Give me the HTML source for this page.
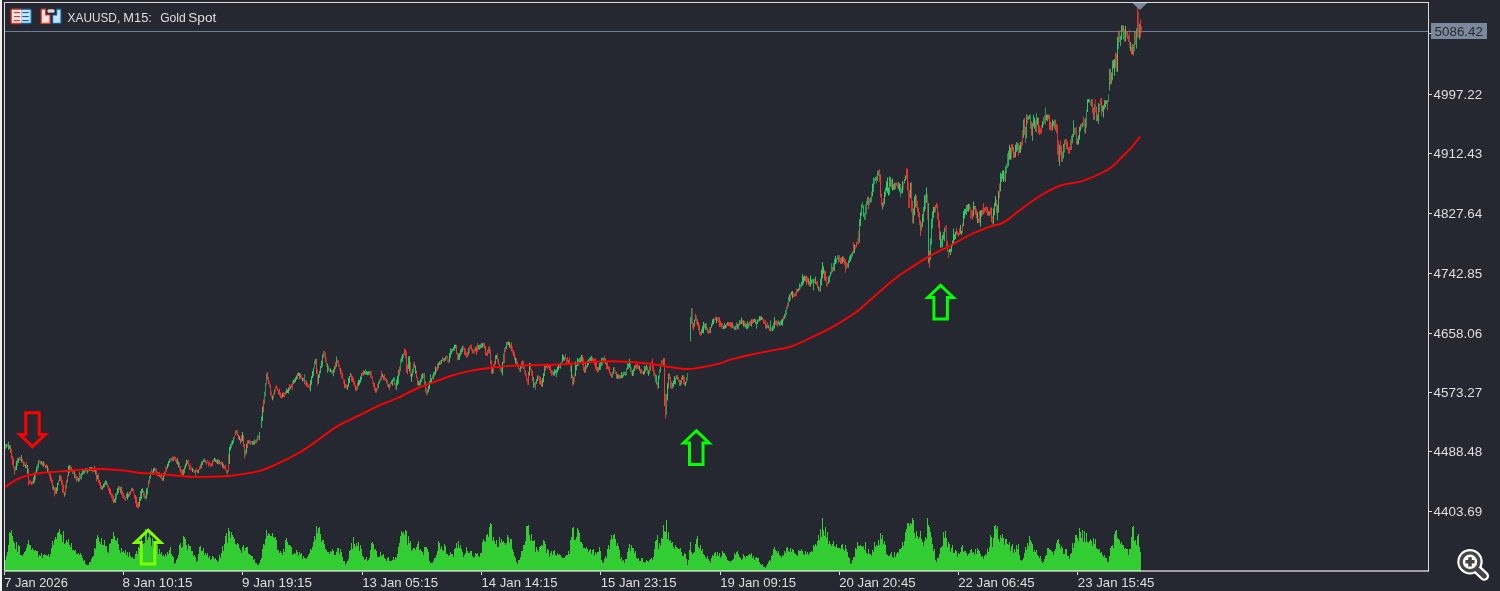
<!DOCTYPE html><html><head><meta charset="utf-8"><title>XAUUSD, M15: Gold Spot</title>
<style>html,body{margin:0;padding:0;background:#252830;overflow:hidden}svg{display:block}text{font-family:"Liberation Sans",sans-serif;}</style></head><body>
<svg width="1500" height="591" viewBox="0 0 1500 591" style="will-change:transform">
<rect width="1500" height="591" fill="#252830"/>
<rect x="0" y="0" width="2" height="591" fill="#f0f0f0"/>
<path d="M5 571L5 560.3L6 560.3L6 556.3L7 556.3L7 551.5L8 551.5L8 545.1L9 545.1L9 531.7L10 531.7L10 532.6L11 532.6L11 530.1L12 530.1L12 536.3L13 536.3L13 540.7L14 540.7L14 543.4L15 543.4L15 549.1L16 549.1L16 541.5L17 541.5L17 551.6L18 551.6L18 544.8L19 544.8L19 546.1L20 546.1L20 555.1L21 555.1L21 555.0L22 555.0L22 556.1L23 556.1L23 554.3L24 554.3L24 551.6L25 551.6L25 550.6L26 550.6L26 547.5L27 547.5L27 543.9L28 543.9L28 540.2L29 540.2L29 545.1L30 545.1L30 545.4L31 545.4L31 550.3L32 550.3L32 547.9L33 547.9L33 550.1L34 550.1L34 550.7L35 550.7L35 549.7L36 549.7L36 550.6L37 550.6L37 551.4L38 551.4L38 557.4L39 557.4L39 554.5L40 554.5L40 556.4L41 556.4L41 553.0L42 553.0L42 558.1L43 558.1L43 555.4L44 555.4L44 554.4L45 554.4L45 555.0L46 555.0L46 555.4L47 555.4L47 556.2L48 556.2L48 553.6L49 553.6L49 557.4L50 557.4L50 553.6L51 553.6L51 548.3L52 548.3L52 541.2L53 541.2L53 544.5L54 544.5L54 539.6L55 539.6L55 537.3L56 537.3L56 539.3L57 539.3L57 532.9L58 532.9L58 532.1L59 532.1L59 529.0L60 529.0L60 533.7L61 533.7L61 535.3L62 535.3L62 542.3L63 542.3L63 530.8L64 530.8L64 543.9L65 543.9L65 543.3L66 543.3L66 539.5L67 539.5L67 542.3L68 542.3L68 539.3L69 539.3L69 545.0L70 545.0L70 546.7L71 546.7L71 543.0L72 543.0L72 549.5L73 549.5L73 550.0L74 550.0L74 550.6L75 550.6L75 550.2L76 550.2L76 554.2L77 554.2L77 553.9L78 553.9L78 552.9L79 552.9L79 554.5L80 554.5L80 553.0L81 553.0L81 555.1L82 555.1L82 557.7L83 557.7L83 561.2L84 561.2L84 559.7L85 559.7L85 564.1L86 564.1L86 564.8L87 564.8L87 565.2L88 565.2L88 565.0L89 565.0L89 562.3L90 562.3L90 561.9L91 561.9L91 558.8L92 558.8L92 556.8L93 556.8L93 556.0L94 556.0L94 548.4L95 548.4L95 549.2L96 549.2L96 539.4L97 539.4L97 534.9L98 534.9L98 536.8L99 536.8L99 541.7L100 541.7L100 543.7L101 543.7L101 537.9L102 537.9L102 545.1L103 545.1L103 544.7L104 544.7L104 539.6L105 539.6L105 546.1L106 546.1L106 545.5L107 545.5L107 552.2L108 552.2L108 553.1L109 553.1L109 544.1L110 544.1L110 542.6L111 542.6L111 539.1L112 539.1L112 539.0L113 539.0L113 531.5L114 531.5L114 535.8L115 535.8L115 540.2L116 540.2L116 540.6L117 540.6L117 538.4L118 538.4L118 543.5L119 543.5L119 549.7L120 549.7L120 553.4L121 553.4L121 548.0L122 548.0L122 552.0L123 552.0L123 550.9L124 550.9L124 552.8L125 552.8L125 550.0L126 550.0L126 554.6L127 554.6L127 552.0L128 552.0L128 556.7L129 556.7L129 552.3L130 552.3L130 556.2L131 556.2L131 557.9L132 557.9L132 556.8L133 556.8L133 558.7L134 558.7L134 558.5L135 558.5L135 554.4L136 554.4L136 551.2L137 551.2L137 554.3L138 554.3L138 546.7L139 546.7L139 547.5L140 547.5L140 547.5L141 547.5L141 536.1L142 536.1L142 543.6L143 543.6L143 544.1L144 544.1L144 542.8L145 542.8L145 528.9L146 528.9L146 530.0L147 530.0L147 539.8L148 539.8L148 536.8L149 536.8L149 530.8L150 530.8L150 538.2L151 538.2L151 545.9L152 545.9L152 538.3L153 538.3L153 548.2L154 548.2L154 545.9L155 545.9L155 547.6L156 547.6L156 544.2L157 544.2L157 545.2L158 545.2L158 553.9L159 553.9L159 548.6L160 548.6L160 554.0L161 554.0L161 552.2L162 552.2L162 556.1L163 556.1L163 555.0L164 555.0L164 557.0L165 557.0L165 553.6L166 553.6L166 556.0L167 556.0L167 551.8L168 551.8L168 554.3L169 554.3L169 549.9L170 549.9L170 547.1L171 547.1L171 554.1L172 554.1L172 556.3L173 556.3L173 557.1L174 557.1L174 563.8L175 563.8L175 562.8L176 562.8L176 560.4L177 560.4L177 557.7L178 557.7L178 554.7L179 554.7L179 545.1L180 545.1L180 543.3L181 543.3L181 547.8L182 547.8L182 547.3L183 547.3L183 535.9L184 535.9L184 537.0L185 537.0L185 539.2L186 539.2L186 545.4L187 545.4L187 549.8L188 549.8L188 543.7L189 543.7L189 545.5L190 545.5L190 545.5L191 545.5L191 551.2L192 551.2L192 551.1L193 551.1L193 555.5L194 555.5L194 554.5L195 554.5L195 557.1L196 557.1L196 562.1L197 562.1L197 560.6L198 560.6L198 554.1L199 554.1L199 547.0L200 547.0L200 545.8L201 545.8L201 551.2L202 551.2L202 550.8L203 550.8L203 548.3L204 548.3L204 555.0L205 555.0L205 553.0L206 553.0L206 554.5L207 554.5L207 552.5L208 552.5L208 558.3L209 558.3L209 556.0L210 556.0L210 560.1L211 560.1L211 559.3L212 559.3L212 555.7L213 555.7L213 557.0L214 557.0L214 558.6L215 558.6L215 558.4L216 558.4L216 560.2L217 560.2L217 562.2L218 562.2L218 561.3L219 561.3L219 554.9L220 554.9L220 557.9L221 557.9L221 553.1L222 553.1L222 545.8L223 545.8L223 551.2L224 551.2L224 544.1L225 544.1L225 536.0L226 536.0L226 533.0L227 533.0L227 543.4L228 543.4L228 528.3L229 528.3L229 531.3L230 531.3L230 537.7L231 537.7L231 531.9L232 531.9L232 535.1L233 535.1L233 536.6L234 536.6L234 538.6L235 538.6L235 544.0L236 544.0L236 545.0L237 545.0L237 543.2L238 543.2L238 544.3L239 544.3L239 548.2L240 548.2L240 549.9L241 549.9L241 553.4L242 553.4L242 546.6L243 546.6L243 544.8L244 544.8L244 550.7L245 550.7L245 548.0L246 548.0L246 547.3L247 547.3L247 547.4L248 547.4L248 554.1L249 554.1L249 554.2L250 554.2L250 554.8L251 554.8L251 556.2L252 556.2L252 555.9L253 555.9L253 559.6L254 559.6L254 559.1L255 559.1L255 563.1L256 563.1L256 563.0L257 563.0L257 565.4L258 565.4L258 565.0L259 565.0L259 563.4L260 563.4L260 559.6L261 559.6L261 557.8L262 557.8L262 549.2L263 549.2L263 544.3L264 544.3L264 544.7L265 544.7L265 539.3L266 539.3L266 529.9L267 529.9L267 535.8L268 535.8L268 532.7L269 532.7L269 534.1L270 534.1L270 535.8L271 535.8L271 535.7L272 535.7L272 532.7L273 532.7L273 537.3L274 537.3L274 537.6L275 537.6L275 537.0L276 537.0L276 539.8L277 539.8L277 550.3L278 550.3L278 549.7L279 549.7L279 553.3L280 553.3L280 550.5L281 550.5L281 553.3L282 553.3L282 554.7L283 554.7L283 548.5L284 548.5L284 552.1L285 552.1L285 539.8L286 539.8L286 537.9L287 537.9L287 542.0L288 542.0L288 545.1L289 545.1L289 545.0L290 545.0L290 546.4L291 546.4L291 546.7L292 546.7L292 554.5L293 554.5L293 554.2L294 554.2L294 553.4L295 553.4L295 553.6L296 553.6L296 549.8L297 549.8L297 551.9L298 551.9L298 556.0L299 556.0L299 551.7L300 551.7L300 553.6L301 553.6L301 553.0L302 553.0L302 558.6L303 558.6L303 555.8L304 555.8L304 558.2L305 558.2L305 557.5L306 557.5L306 559.1L307 559.1L307 557.1L308 557.1L308 555.4L309 555.4L309 553.3L310 553.3L310 549.3L311 549.3L311 550.1L312 550.1L312 546.7L313 546.7L313 542.1L314 542.1L314 536.0L315 536.0L315 540.4L316 540.4L316 526.4L317 526.4L317 533.4L318 533.4L318 527.7L319 527.7L319 527.2L320 527.2L320 534.1L321 534.1L321 542.4L322 542.4L322 539.5L323 539.5L323 540.2L324 540.2L324 543.5L325 543.5L325 548.9L326 548.9L326 549.9L327 549.9L327 552.1L328 552.1L328 552.4L329 552.4L329 553.5L330 553.5L330 551.0L331 551.0L331 552.3L332 552.3L332 548.5L333 548.5L333 550.6L334 550.6L334 555.3L335 555.3L335 554.9L336 554.9L336 551.7L337 551.7L337 548.2L338 548.2L338 548.2L339 548.2L339 554.1L340 554.1L340 549.1L341 549.1L341 552.2L342 552.2L342 557.1L343 557.1L343 561.0L344 561.0L344 560.5L345 560.5L345 565.2L346 565.2L346 563.2L347 563.2L347 560.8L348 560.8L348 558.7L349 558.7L349 551.3L350 551.3L350 549.8L351 549.8L351 542.8L352 542.8L352 549.4L353 549.4L353 536.7L354 536.7L354 543.5L355 543.5L355 547.1L356 547.1L356 542.8L357 542.8L357 546.0L358 546.0L358 541.7L359 541.7L359 551.0L360 551.0L360 545.2L361 545.2L361 548.9L362 548.9L362 555.5L363 555.5L363 557.3L364 557.3L364 559.7L365 559.7L365 558.5L366 558.5L366 556.7L367 556.7L367 560.6L368 560.6L368 560.3L369 560.3L369 557.9L370 557.9L370 550.3L371 550.3L371 542.5L372 542.5L372 542.4L373 542.4L373 543.8L374 543.8L374 550.0L375 550.0L375 549.3L376 549.3L376 551.3L377 551.3L377 556.7L378 556.7L378 557.0L379 557.0L379 557.2L380 557.2L380 552.2L381 552.2L381 555.7L382 555.7L382 554.5L383 554.5L383 554.1L384 554.1L384 558.4L385 558.4L385 559.2L386 559.2L386 561.0L387 561.0L387 557.8L388 557.8L388 556.8L389 556.8L389 560.9L390 560.9L390 560.6L391 560.6L391 561.1L392 561.1L392 560.3L393 560.3L393 557.2L394 557.2L394 560.3L395 560.3L395 557.1L396 557.1L396 558.3L397 558.3L397 554.1L398 554.1L398 546.9L399 546.9L399 542.5L400 542.5L400 535.9L401 535.9L401 531.0L402 531.0L402 532.7L403 532.7L403 531.8L404 531.8L404 534.8L405 534.8L405 530.1L406 530.1L406 530.7L407 530.7L407 544.8L408 544.8L408 535.9L409 535.9L409 542.5L410 542.5L410 541.0L411 541.0L411 551.2L412 551.2L412 550.4L413 550.4L413 548.3L414 548.3L414 548.4L415 548.4L415 549.7L416 549.7L416 547.4L417 547.4L417 543.9L418 543.9L418 541.0L419 541.0L419 549.6L420 549.6L420 548.7L421 548.7L421 551.1L422 551.1L422 552.3L423 552.3L423 554.7L424 554.7L424 546.5L425 546.5L425 546.7L426 546.7L426 546.8L427 546.8L427 548.7L428 548.7L428 551.7L429 551.7L429 560.5L430 560.5L430 563.3L431 563.3L431 562.6L432 562.6L432 562.8L433 562.8L433 561.2L434 561.2L434 558.4L435 558.4L435 558.3L436 558.3L436 554.7L437 554.7L437 550.8L438 550.8L438 541.1L439 541.1L439 543.4L440 543.4L440 548.9L441 548.9L441 546.4L442 546.4L442 550.4L443 550.4L443 550.5L444 550.5L444 544.3L445 544.3L445 546.3L446 546.3L446 553.6L447 553.6L447 553.5L448 553.5L448 555.8L449 555.8L449 555.2L450 555.2L450 552.1L451 552.1L451 554.0L452 554.0L452 553.8L453 553.8L453 556.5L454 556.5L454 549.4L455 549.4L455 547.9L456 547.9L456 543.4L457 543.4L457 548.1L458 548.1L458 540.8L459 540.8L459 547.9L460 547.9L460 544.9L461 544.9L461 548.7L462 548.7L462 552.3L463 552.3L463 557.3L464 557.3L464 554.7L465 554.7L465 553.1L466 553.1L466 546.5L467 546.5L467 550.6L468 550.6L468 553.3L469 553.3L469 553.4L470 553.4L470 551.3L471 551.3L471 551.4L472 551.4L472 555.8L473 555.8L473 557.8L474 557.8L474 557.0L475 557.0L475 552.9L476 552.9L476 553.7L477 553.7L477 553.0L478 553.0L478 555.6L479 555.6L479 556.6L480 556.6L480 553.0L481 553.0L481 552.5L482 552.5L482 542.1L483 542.1L483 538.9L484 538.9L484 540.9L485 540.9L485 542.2L486 542.2L486 534.6L487 534.6L487 533.9L488 533.9L488 537.1L489 537.1L489 527.3L490 527.3L490 522.8L491 522.8L491 523.7L492 523.7L492 541.2L493 541.2L493 536.8L494 536.8L494 540.7L495 540.7L495 544.1L496 544.1L496 540.1L497 540.1L497 547.4L498 547.4L498 547.1L499 547.1L499 537.1L500 537.1L500 543.4L501 543.4L501 538.7L502 538.7L502 542.1L503 542.1L503 540.6L504 540.6L504 542.7L505 542.7L505 544.9L506 544.9L506 543.4L507 543.4L507 535.4L508 535.4L508 537.2L509 537.2L509 543.3L510 543.3L510 539.2L511 539.2L511 539.3L512 539.3L512 549.0L513 549.0L513 552.0L514 552.0L514 556.3L515 556.3L515 557.9L516 557.9L516 561.7L517 561.7L517 563.7L518 563.7L518 559.9L519 559.9L519 560.1L520 560.1L520 556.6L521 556.6L521 551.3L522 551.3L522 551.2L523 551.2L523 545.2L524 545.2L524 544.6L525 544.6L525 540.6L526 540.6L526 526.2L527 526.2L527 526.3L528 526.3L528 525.4L529 525.4L529 535.0L530 535.0L530 540.8L531 540.8L531 533.7L532 533.7L532 540.5L533 540.5L533 541.3L534 541.3L534 539.5L535 539.5L535 551.8L536 551.8L536 546.8L537 546.8L537 550.4L538 550.4L538 552.0L539 552.0L539 546.8L540 546.8L540 545.9L541 545.9L541 544.9L542 544.9L542 545.6L543 545.6L543 540.3L544 540.3L544 540.8L545 540.8L545 543.9L546 543.9L546 552.5L547 552.5L547 548.6L548 548.6L548 549.5L549 549.5L549 556.7L550 556.7L550 552.6L551 552.6L551 550.8L552 550.8L552 554.7L553 554.7L553 550.9L554 550.9L554 549.8L555 549.8L555 555.0L556 555.0L556 555.5L557 555.5L557 553.0L558 553.0L558 555.1L559 555.1L559 554.4L560 554.4L560 555.2L561 555.2L561 557.4L562 557.4L562 558.1L563 558.1L563 558.4L564 558.4L564 557.7L565 557.7L565 556.0L566 556.0L566 554.9L567 554.9L567 554.5L568 554.5L568 551.2L569 551.2L569 554.4L570 554.4L570 539.9L571 539.9L571 536.6L572 536.6L572 528.3L573 528.3L573 526.7L574 526.7L574 540.0L575 540.0L575 540.0L576 540.0L576 536.7L577 536.7L577 528.2L578 528.2L578 530.2L579 530.2L579 533.4L580 533.4L580 541.9L581 541.9L581 542.4L582 542.4L582 544.0L583 544.0L583 547.8L584 547.8L584 547.7L585 547.7L585 548.5L586 548.5L586 546.9L587 546.9L587 548.8L588 548.8L588 551.8L589 551.8L589 550.3L590 550.3L590 549.1L591 549.1L591 554.0L592 554.0L592 550.1L593 550.1L593 549.2L594 549.2L594 556.0L595 556.0L595 552.1L596 552.1L596 554.1L597 554.1L597 551.7L598 551.7L598 551.8L599 551.8L599 547.1L600 547.1L600 550.5L601 550.5L601 560.1L602 560.1L602 562.2L603 562.2L603 563.3L604 563.3L604 559.0L605 559.0L605 555.8L606 555.8L606 557.5L607 557.5L607 548.6L608 548.6L608 545.0L609 545.0L609 549.2L610 549.2L610 540.3L611 540.3L611 534.5L612 534.5L612 539.3L613 539.3L613 535.2L614 535.2L614 533.7L615 533.7L615 539.2L616 539.2L616 545.9L617 545.9L617 543.0L618 543.0L618 545.7L619 545.7L619 550.3L620 550.3L620 558.8L621 558.8L621 557.1L622 557.1L622 561.0L623 561.0L623 560.2L624 560.2L624 562.5L625 562.5L625 559.1L626 559.1L626 558.8L627 558.8L627 552.4L628 552.4L628 548.4L629 548.4L629 544.4L630 544.4L630 551.2L631 551.2L631 544.5L632 544.5L632 548.0L633 548.0L633 548.3L634 548.3L634 553.0L635 553.0L635 551.0L636 551.0L636 557.5L637 557.5L637 558.7L638 558.7L638 557.6L639 557.6L639 560.9L640 560.9L640 561.1L641 561.1L641 558.4L642 558.4L642 557.8L643 557.8L643 561.5L644 561.5L644 562.7L645 562.7L645 562.2L646 562.2L646 559.6L647 559.6L647 560.5L648 560.5L648 561.8L649 561.8L649 560.2L650 560.2L650 559.2L651 559.2L651 558.1L652 558.1L652 559.5L653 559.5L653 557.4L654 557.4L654 549.3L655 549.3L655 541.3L656 541.3L656 540.0L657 540.0L657 534.7L658 534.7L658 548.7L659 548.7L659 543.1L660 543.1L660 546.4L661 546.4L661 537.5L662 537.5L662 539.4L663 539.4L663 524.7L664 524.7L664 530.7L665 530.7L665 531.9L666 531.9L666 520.2L667 520.2L667 539.0L668 539.0L668 532.4L669 532.4L669 541.0L670 541.0L670 540.4L671 540.4L671 542.8L672 542.8L672 542.2L673 542.2L673 546.5L674 546.5L674 548.6L675 548.6L675 545.1L676 545.1L676 546.9L677 546.9L677 548.3L678 548.3L678 548.5L679 548.5L679 548.6L680 548.6L680 547.8L681 547.8L681 552.0L682 552.0L682 556.1L683 556.1L683 556.1L684 556.1L684 553.0L685 553.0L685 553.8L686 553.8L686 559.2L687 559.2L687 564.5L688 564.5L688 559.8L689 559.8L689 549.5L690 549.5L690 542.3L691 542.3L691 551.7L692 551.7L692 553.5L693 553.5L693 553.4L694 553.4L694 552.1L695 552.1L695 543.7L696 543.7L696 538.7L697 538.7L697 535.7L698 535.7L698 547.0L699 547.0L699 548.9L700 548.9L700 544.6L701 544.6L701 551.3L702 551.3L702 548.7L703 548.7L703 554.2L704 554.2L704 554.8L705 554.8L705 556.5L706 556.5L706 558.5L707 558.5L707 556.4L708 556.4L708 558.6L709 558.6L709 560.5L710 560.5L710 562.9L711 562.9L711 557.8L712 557.8L712 555.1L713 555.1L713 555.8L714 555.8L714 553.2L715 553.2L715 551.5L716 551.5L716 556.1L717 556.1L717 552.2L718 552.2L718 556.2L719 556.2L719 553.1L720 553.1L720 557.5L721 557.5L721 555.8L722 555.8L722 551.3L723 551.3L723 553.0L724 553.0L724 553.1L725 553.1L725 555.1L726 555.1L726 557.1L727 557.1L727 559.9L728 559.9L728 560.7L729 560.7L729 561.4L730 561.4L730 562.4L731 562.4L731 560.9L732 560.9L732 560.0L733 560.0L733 558.6L734 558.6L734 553.3L735 553.3L735 555.1L736 555.1L736 551.5L737 551.5L737 550.9L738 550.9L738 553.9L739 553.9L739 556.6L740 556.6L740 558.4L741 558.4L741 559.6L742 559.6L742 558.6L743 558.6L743 553.8L744 553.8L744 556.4L745 556.4L745 558.4L746 558.4L746 555.5L747 555.5L747 556.1L748 556.1L748 555.0L749 555.0L749 554.4L750 554.4L750 554.9L751 554.9L751 552.6L752 552.6L752 557.9L753 557.9L753 555.5L754 555.5L754 559.8L755 559.8L755 557.7L756 557.7L756 557.1L757 557.1L757 558.2L758 558.2L758 558.3L759 558.3L759 562.3L760 562.3L760 563.5L761 563.5L761 564.7L762 564.7L762 564.4L763 564.4L763 566.6L764 566.6L764 566.7L765 566.7L765 567.5L766 567.5L766 565.6L767 565.6L767 563.7L768 563.7L768 561.9L769 561.9L769 560.1L770 560.1L770 561.2L771 561.2L771 556.0L772 556.0L772 554.8L773 554.8L773 549.4L774 549.4L774 547.4L775 547.4L775 549.9L776 549.9L776 551.1L777 551.1L777 552.5L778 552.5L778 551.2L779 551.2L779 555.3L780 555.3L780 556.0L781 556.0L781 558.2L782 558.2L782 554.9L783 554.9L783 555.5L784 555.5L784 550.9L785 550.9L785 552.5L786 552.5L786 547.6L787 547.6L787 546.9L788 546.9L788 551.2L789 551.2L789 552.4L790 552.4L790 547.6L791 547.6L791 551.6L792 551.6L792 548.7L793 548.7L793 549.7L794 549.7L794 552.8L795 552.8L795 553.8L796 553.8L796 554.6L797 554.6L797 556.4L798 556.4L798 550.0L799 550.0L799 551.2L800 551.2L800 551.1L801 551.1L801 549.2L802 549.2L802 551.0L803 551.0L803 554.1L804 554.1L804 554.7L805 554.7L805 550.9L806 550.9L806 553.8L807 553.8L807 552.2L808 552.2L808 554.9L809 554.9L809 552.6L810 552.6L810 551.7L811 551.7L811 550.5L812 550.5L812 552.3L813 552.3L813 544.5L814 544.5L814 545.9L815 545.9L815 544.3L816 544.3L816 546.1L817 546.1L817 541.0L818 541.0L818 535.4L819 535.4L819 540.2L820 540.2L820 528.8L821 528.8L821 537.0L822 537.0L822 518.1L823 518.1L823 529.6L824 529.6L824 536.1L825 536.1L825 527.3L826 527.3L826 538.1L827 538.1L827 532.0L828 532.0L828 543.7L829 543.7L829 540.9L830 540.9L830 544.4L831 544.4L831 545.5L832 545.5L832 543.8L833 543.8L833 541.1L834 541.1L834 546.1L835 546.1L835 547.3L836 547.3L836 544.4L837 544.4L837 548.1L838 548.1L838 548.3L839 548.3L839 547.9L840 547.9L840 548.5L841 548.5L841 544.9L842 544.9L842 544.3L843 544.3L843 549.2L844 549.2L844 551.4L845 551.4L845 544.6L846 544.6L846 549.3L847 549.3L847 551.5L848 551.5L848 556.6L849 556.6L849 558.4L850 558.4L850 564.1L851 564.1L851 563.1L852 563.1L852 560.1L853 560.1L853 557.2L854 557.2L854 556.7L855 556.7L855 547.9L856 547.9L856 548.7L857 548.7L857 542.1L858 542.1L858 546.2L859 546.2L859 545.8L860 545.8L860 544.5L861 544.5L861 546.0L862 546.0L862 547.0L863 547.0L863 545.7L864 545.7L864 550.3L865 550.3L865 542.4L866 542.4L866 552.6L867 552.6L867 553.6L868 553.6L868 549.0L869 549.0L869 553.6L870 553.6L870 553.6L871 553.6L871 555.7L872 555.7L872 550.0L873 550.0L873 551.9L874 551.9L874 541.6L875 541.6L875 547.3L876 547.3L876 544.7L877 544.7L877 546.2L878 546.2L878 540.3L879 540.3L879 544.9L880 544.9L880 532.7L881 532.7L881 539.1L882 539.1L882 535.2L883 535.2L883 543.6L884 543.6L884 541.0L885 541.0L885 545.3L886 545.3L886 553.5L887 553.5L887 554.7L888 554.7L888 556.0L889 556.0L889 556.1L890 556.1L890 553.8L891 553.8L891 552.3L892 552.3L892 556.9L893 556.9L893 557.6L894 557.6L894 552.3L895 552.3L895 557.3L896 557.3L896 554.2L897 554.2L897 551.9L898 551.9L898 552.9L899 552.9L899 549.4L900 549.4L900 549.0L901 549.0L901 548.2L902 548.2L902 541.9L903 541.9L903 545.8L904 545.8L904 541.0L905 541.0L905 532.0L906 532.0L906 528.6L907 528.6L907 523.2L908 523.2L908 523.1L909 523.1L909 525.6L910 525.6L910 523.3L911 523.3L911 523.6L912 523.6L912 517.5L913 517.5L913 519.8L914 519.8L914 532.5L915 532.5L915 538.2L916 538.2L916 530.7L917 530.7L917 536.3L918 536.3L918 538.7L919 538.7L919 536.8L920 536.8L920 531.3L921 531.3L921 539.1L922 539.1L922 542.1L923 542.1L923 546.3L924 546.3L924 540.6L925 540.6L925 536.7L926 536.7L926 539.3L927 539.3L927 517.8L928 517.8L928 524.9L929 524.9L929 526.9L930 526.9L930 531.5L931 531.5L931 536.5L932 536.5L932 543.5L933 543.5L933 551.0L934 551.0L934 549.2L935 549.2L935 559.5L936 559.5L936 561.5L937 561.5L937 557.5L938 557.5L938 557.9L939 557.9L939 553.6L940 553.6L940 547.5L941 547.5L941 547.0L942 547.0L942 546.4L943 546.4L943 531.9L944 531.9L944 538.0L945 538.0L945 531.0L946 531.0L946 538.2L947 538.2L947 547.3L948 547.3L948 541.6L949 541.6L949 544.4L950 544.4L950 551.8L951 551.8L951 547.8L952 547.8L952 544.9L953 544.9L953 552.9L954 552.9L954 553.0L955 553.0L955 549.9L956 549.9L956 551.0L957 551.0L957 557.1L958 557.1L958 553.2L959 553.2L959 553.5L960 553.5L960 551.7L961 551.7L961 547.0L962 547.0L962 544.6L963 544.6L963 551.5L964 551.5L964 550.7L965 550.7L965 550.5L966 550.5L966 553.4L967 553.4L967 555.9L968 555.9L968 553.7L969 553.7L969 553.1L970 553.1L970 550.2L971 550.2L971 548.7L972 548.7L972 553.0L973 553.0L973 551.9L974 551.9L974 554.5L975 554.5L975 549.3L976 549.3L976 553.8L977 553.8L977 547.7L978 547.7L978 549.5L979 549.5L979 550.9L980 550.9L980 553.7L981 553.7L981 556.5L982 556.5L982 556.1L983 556.1L983 558.6L984 558.6L984 556.0L985 556.0L985 554.2L986 554.2L986 554.6L987 554.6L987 549.3L988 549.3L988 552.0L989 552.0L989 547.2L990 547.2L990 535.0L991 535.0L991 537.1L992 537.1L992 546.8L993 546.8L993 537.6L994 537.6L994 525.6L995 525.6L995 525.2L996 525.2L996 529.0L997 529.0L997 526.0L998 526.0L998 538.5L999 538.5L999 541.8L1000 541.8L1000 534.8L1001 534.8L1001 537.9L1002 537.9L1002 533.6L1003 533.6L1003 538.3L1004 538.3L1004 545.0L1005 545.0L1005 538.6L1006 538.6L1006 539.0L1007 539.0L1007 544.1L1008 544.1L1008 544.8L1009 544.8L1009 541.6L1010 541.6L1010 550.7L1011 550.7L1011 545.5L1012 545.5L1012 544.2L1013 544.2L1013 553.1L1014 553.1L1014 548.7L1015 548.7L1015 551.6L1016 551.6L1016 545.3L1017 545.3L1017 549.3L1018 549.3L1018 544.1L1019 544.1L1019 555.4L1020 555.4L1020 560.1L1021 560.1L1021 560.5L1022 560.5L1022 560.2L1023 560.2L1023 557.5L1024 557.5L1024 553.3L1025 553.3L1025 547.4L1026 547.4L1026 549.9L1027 549.9L1027 543.3L1028 543.3L1028 545.5L1029 545.5L1029 535.5L1030 535.5L1030 539.6L1031 539.6L1031 542.1L1032 542.1L1032 544.4L1033 544.4L1033 551.6L1034 551.6L1034 549.9L1035 549.9L1035 551.9L1036 551.9L1036 549.8L1037 549.8L1037 554.9L1038 554.9L1038 556.1L1039 556.1L1039 558.2L1040 558.2L1040 555.7L1041 555.7L1041 561.3L1042 561.3L1042 563.4L1043 563.4L1043 561.7L1044 561.7L1044 559.0L1045 559.0L1045 556.0L1046 556.0L1046 554.7L1047 554.7L1047 548.2L1048 548.2L1048 547.9L1049 547.9L1049 549.1L1050 549.1L1050 549.9L1051 549.9L1051 551.1L1052 551.1L1052 551.8L1053 551.8L1053 554.5L1054 554.5L1054 550.9L1055 550.9L1055 549.1L1056 549.1L1056 543.0L1057 543.0L1057 540.4L1058 540.4L1058 538.9L1059 538.9L1059 543.9L1060 543.9L1060 549.3L1061 549.3L1061 546.0L1062 546.0L1062 547.6L1063 547.6L1063 553.8L1064 553.8L1064 553.6L1065 553.6L1065 548.7L1066 548.7L1066 549.4L1067 549.4L1067 556.0L1068 556.0L1068 556.0L1069 556.0L1069 558.6L1070 558.6L1070 553.8L1071 553.8L1071 552.6L1072 552.6L1072 543.0L1073 543.0L1073 548.3L1074 548.3L1074 542.8L1075 542.8L1075 534.6L1076 534.6L1076 534.5L1077 534.5L1077 538.0L1078 538.0L1078 541.2L1079 541.2L1079 527.9L1080 527.9L1080 532.0L1081 532.0L1081 537.5L1082 537.5L1082 529.5L1083 529.5L1083 542.3L1084 542.3L1084 530.6L1085 530.6L1085 541.6L1086 541.6L1086 533.0L1087 533.0L1087 542.0L1088 542.0L1088 542.9L1089 542.9L1089 540.9L1090 540.9L1090 539.2L1091 539.2L1091 541.0L1092 541.0L1092 545.7L1093 545.7L1093 537.7L1094 537.7L1094 544.4L1095 544.4L1095 539.3L1096 539.3L1096 548.3L1097 548.3L1097 548.9L1098 548.9L1098 549.8L1099 549.8L1099 548.6L1100 548.6L1100 553.0L1101 553.0L1101 552.1L1102 552.1L1102 555.0L1103 555.0L1103 556.5L1104 556.5L1104 555.1L1105 555.1L1105 558.4L1106 558.4L1106 557.8L1107 557.8L1107 561.7L1108 561.7L1108 561.7L1109 561.7L1109 556.1L1110 556.1L1110 547.7L1111 547.7L1111 545.5L1112 545.5L1112 544.5L1113 544.5L1113 547.7L1114 547.7L1114 534.1L1115 534.1L1115 530.5L1116 530.5L1116 529.5L1117 529.5L1117 537.6L1118 537.6L1118 538.6L1119 538.6L1119 539.5L1120 539.5L1120 543.7L1121 543.7L1121 542.1L1122 542.1L1122 544.7L1123 544.7L1123 545.0L1124 545.0L1124 549.3L1125 549.3L1125 547.8L1126 547.8L1126 548.6L1127 548.6L1127 549.4L1128 549.4L1128 554.8L1129 554.8L1129 549.1L1130 549.1L1130 548.8L1131 548.8L1131 536.8L1132 536.8L1132 527.3L1133 527.3L1133 526.4L1134 526.4L1134 540.5L1135 540.5L1135 539.9L1136 539.9L1136 544.7L1137 544.7L1137 536.0L1138 536.0L1138 534.1L1139 534.1L1139 546.9L1140 546.9L1140 552.1L1141 552.1L1141 571 Z" fill="#32cd32" shape-rendering="crispEdges"/>
<g shape-rendering="crispEdges" fill="#dcdcdc">
<rect x="4" y="2" width="1425" height="1"/>
<rect x="4" y="2" width="1" height="569"/>
<rect x="1428" y="2" width="1" height="569"/>
<rect x="4" y="570" width="1425" height="2" fill="#ffffff" fill-opacity="0.56"/>
<rect x="4" y="572" width="1" height="3"/>
<rect x="123" y="572" width="1" height="3"/>
<rect x="242" y="572" width="1" height="3"/>
<rect x="362" y="572" width="1" height="3"/>
<rect x="481" y="572" width="1" height="3"/>
<rect x="600" y="572" width="1" height="3"/>
<rect x="720" y="572" width="1" height="3"/>
<rect x="839" y="572" width="1" height="3"/>
<rect x="958" y="572" width="1" height="3"/>
<rect x="1077" y="572" width="1" height="3"/>
<rect x="1429" y="94" width="3" height="1"/>
<rect x="1429" y="153" width="3" height="1"/>
<rect x="1429" y="213" width="3" height="1"/>
<rect x="1429" y="273" width="3" height="1"/>
<rect x="1429" y="333" width="3" height="1"/>
<rect x="1429" y="392" width="3" height="1"/>
<rect x="1429" y="451" width="3" height="1"/>
<rect x="1429" y="511" width="3" height="1"/>
</g>
<rect x="5" y="31" width="1423" height="1" fill="#6b7d90" shape-rendering="crispEdges"/><rect x="1429" y="33" width="2" height="1" fill="#cfcfcf" shape-rendering="crispEdges"/>
<path d="M5.5 443.8V449.2M15.5 465.6V470.9M17.5 457.6V466.2M24.5 462.3V465.8M37.5 463.8V471.2M58.5 480.2V485.2M66.5 479.9V488.8M76.5 476.4V481.9M80.5 473.9V479.1M83.5 469.3V474.0M116.5 492.7V499.5M145.5 495.3V499.6M149.5 476.0V483.6M152.5 470.4V474.3M164.5 471.5V476.4M171.5 458.2V461.7M172.5 456.6V460.9M195.5 469.7V475.5M204.5 458.6V462.1M227.5 470.1V474.4M231.5 441.4V448.0M236.5 430.2V434.1M245.5 449.6V455.6M257.5 435.2V441.6M264.5 391.7V404.1M265.5 383.2V396.3M266.5 373.3V384.8M304.5 374.2V384.3M314.5 360.9V368.7M323.5 351.1V357.7M328.5 365.6V370.9M331.5 370.1V373.6M356.5 386.2V390.8M365.5 369.1V374.8M376.5 388.0V392.6M380.5 376.5V381.3M386.5 378.8V383.6M394.5 377.2V385.2M400.5 358.6V371.3M401.5 356.4V362.6M403.5 353.2V357.8M413.5 363.6V372.6M424.5 373.0V385.5M427.5 389.0V394.7M443.5 358.2V361.7M452.5 348.8V352.3M488.5 346.8V353.5M501.5 365.8V372.8M503.5 353.6V363.4M505.5 346.4V352.1M521.5 361.9V368.8M535.5 381.7V389.6M578.5 359.3V366.2M589.5 357.7V361.2M598.5 367.0V372.0M602.5 357.4V365.5M612.5 371.8V377.8M624.5 371.5V375.0M626.5 368.2V375.2M630.5 363.4V372.0M645.5 366.4V371.9M649.5 366.1V373.8M655.5 373.5V382.4M659.5 369.3V378.6M661.5 360.5V365.6M666.5 393.8V415.0M679.5 379.8V385.8M686.5 377.3V383.2M687.5 373.2V380.5M691.5 308.2V324.1M695.5 313.7V321.0M704.5 323.2V328.2M707.5 327.7V333.0M734.5 326.4V329.9M738.5 323.7V330.1M773.5 322.7V330.3M780.5 320.7V325.4M785.5 309.9V317.7M786.5 306.4V315.1M788.5 296.8V306.4M800.5 284.5V288.6M812.5 279.3V282.8M831.5 263.3V274.2M836.5 258.0V263.3M837.5 255.2V259.7M838.5 255.4V262.5M847.5 263.2V267.7M851.5 253.3V259.5M862.5 201.8V207.8M864.5 212.9V219.8M865.5 204.4V219.8M866.5 200.7V214.2M869.5 198.6V204.9M871.5 191.5V202.7M874.5 178.1V184.5M876.5 176.2V183.5M878.5 170.5V175.9M900.5 184.0V197.2M921.5 222.6V230.8M925.5 194.5V209.2M941.5 239.0V247.5M1006.5 163.6V173.5M1007.5 153.4V167.9M1025.5 126.9V142.8M1030.5 114.6V128.7M1036.5 112.8V132.4M1043.5 116.9V125.4M1045.5 107.4V124.5M1054.5 119.6V128.6M1062.5 151.4V161.8M1064.5 139.9V152.7M1071.5 135.7V150.0M1074.5 127.8V134.9M1086.5 109.6V127.5M1089.5 98.8V102.3M1091.5 99.2V106.7M1094.5 104.1V119.8M1099.5 104.0V112.1M1108.5 94.4V102.0M1118.5 31.7V49.0M1127.5 31.2V39.0M1134.5 31.2V51.3" stroke="#2dcc68" stroke-width="1" stroke-opacity="0.65" fill="none"/>
<path d="M7.5 443.4V446.9M30.5 480.0V483.5M39.5 459.8V463.3M44.5 462.4V466.3M48.5 468.2V474.4M49.5 471.1V477.6M73.5 470.0V474.2M88.5 468.5V472.0M107.5 482.7V487.5M112.5 493.6V501.4M124.5 495.6V500.3M133.5 489.0V493.4M151.5 468.4V473.8M155.5 468.7V472.8M165.5 466.2V474.9M170.5 457.8V461.5M179.5 462.5V470.6M190.5 463.3V470.6M191.5 466.9V470.4M193.5 469.0V472.5M194.5 469.5V473.0M206.5 461.3V465.2M207.5 459.8V463.3M209.5 461.6V465.1M213.5 459.2V462.7M220.5 462.0V465.5M234.5 435.2V439.2M251.5 440.8V444.3M258.5 435.9V439.8M269.5 380.6V387.6M271.5 391.3V398.2M275.5 386.2V391.6M301.5 375.0V379.6M305.5 380.0V384.9M308.5 384.6V388.1M309.5 383.8V388.8M317.5 369.2V386.0M324.5 350.7V357.8M326.5 358.2V367.2M329.5 368.2V372.0M339.5 363.8V370.6M341.5 369.8V378.4M343.5 378.6V383.7M346.5 384.1V388.8M371.5 371.1V378.9M372.5 376.1V383.5M377.5 383.9V390.4M395.5 382.9V389.3M426.5 387.5V395.5M447.5 356.0V362.2M448.5 359.3V363.8M463.5 345.7V350.2M469.5 345.6V353.0M473.5 350.2V353.7M497.5 353.1V362.4M500.5 367.4V372.3M512.5 346.6V353.5M519.5 368.0V371.8M524.5 364.6V373.8M526.5 373.7V381.0M527.5 377.8V384.8M531.5 368.6V376.0M538.5 375.2V379.6M566.5 358.0V365.0M570.5 363.0V371.6M574.5 373.2V382.7M614.5 367.2V371.6M615.5 370.3V374.2M631.5 367.2V374.8M642.5 370.5V374.0M651.5 361.2V365.0M653.5 365.3V376.0M654.5 369.7V377.9M657.5 381.8V389.3M662.5 359.9V364.0M692.5 308.2V328.4M696.5 315.2V324.4M714.5 318.4V322.2M717.5 317.2V321.0M722.5 322.9V329.0M733.5 325.3V328.8M771.5 328.4V331.9M793.5 292.7V297.3M819.5 287.0V291.5M827.5 282.4V286.5M855.5 245.1V249.1M857.5 238.2V244.1M858.5 230.5V244.9M897.5 182.2V188.2M903.5 181.8V189.5M908.5 181.6V208.0M927.5 193.7V219.9M945.5 225.2V232.0M946.5 225.2V247.6M970.5 206.7V219.4M971.5 209.3V218.3M986.5 206.9V213.1M992.5 215.6V225.8M1004.5 171.8V180.8M1051.5 122.8V130.4M1075.5 127.8V134.9M1081.5 123.5V128.9M1084.5 119.0V133.4M1090.5 100.4V105.3M1095.5 99.2V112.5M1126.5 31.3V36.5M1129.5 29.4V47.9M1138.5 11.9V37.1" stroke="#ff3232" stroke-width="1" stroke-opacity="0.65" fill="none"/>
<path d="M8.5 441.6V450.0M21.5 455.0V462.4M33.5 477.2V483.8M38.5 460.2V468.0M43.5 461.1V467.0M53.5 485.5V490.2M59.5 475.2V481.1M64.5 492.3V496.8M69.5 465.2V472.7M74.5 469.9V477.8M81.5 472.9V479.5M86.5 467.8V471.3M87.5 468.6V473.7M91.5 467.0V470.5M95.5 468.4V474.6M104.5 482.3V487.0M105.5 480.2V484.7M106.5 480.8V485.3M115.5 493.6V502.7M118.5 486.2V493.1M120.5 487.2V493.2M126.5 493.9V498.0M128.5 493.6V497.3M131.5 487.8V491.3M140.5 491.2V501.1M147.5 487.4V494.8M150.5 471.7V478.8M154.5 467.5V471.0M159.5 472.4V476.7M169.5 458.8V463.1M177.5 457.9V464.6M183.5 469.0V475.5M184.5 466.4V473.1M201.5 461.3V468.1M202.5 461.2V465.0M203.5 458.7V462.2M215.5 458.6V462.1M219.5 460.2V464.0M233.5 437.3V443.1M240.5 438.5V443.7M248.5 440.1V443.6M252.5 440.8V444.8M253.5 441.2V444.8M254.5 439.5V444.6M259.5 431.9V440.2M261.5 416.4V428.0M274.5 389.3V394.7M286.5 388.5V393.4M290.5 385.8V389.3M294.5 379.1V382.6M299.5 373.0V379.3M313.5 367.6V376.2M315.5 358.8V364.3M319.5 370.9V377.8M320.5 365.9V373.4M322.5 354.4V366.5M327.5 363.1V372.9M333.5 368.8V376.3M334.5 366.1V372.4M336.5 356.6V367.0M350.5 373.0V376.9M361.5 373.1V380.0M368.5 371.4V375.2M369.5 370.9V374.4M378.5 381.9V388.2M379.5 379.8V383.7M388.5 384.2V387.8M391.5 380.3V384.0M393.5 377.5V381.0M396.5 379.3V389.8M398.5 369.7V383.7M408.5 356.3V369.0M412.5 368.8V376.6M418.5 381.1V385.8M419.5 380.7V385.3M420.5 378.8V385.4M421.5 374.3V381.9M422.5 373.0V379.2M430.5 374.0V384.1M433.5 372.3V379.7M434.5 371.4V376.5M438.5 362.6V368.4M444.5 357.9V361.4M445.5 356.5V360.6M450.5 348.5V358.3M451.5 348.7V354.3M458.5 353.5V359.9M460.5 349.3V355.8M461.5 347.7V354.2M462.5 345.7V352.0M468.5 347.7V355.4M475.5 347.2V351.1M478.5 345.0V349.7M479.5 344.8V349.6M480.5 344.5V348.5M481.5 343.0V348.0M495.5 355.2V364.4M506.5 341.9V349.0M520.5 365.3V371.8M533.5 377.1V387.8M536.5 378.9V384.0M544.5 365.9V376.1M546.5 363.8V367.3M553.5 371.6V375.6M555.5 369.7V373.4M556.5 369.5V377.2M560.5 362.9V368.7M561.5 361.6V365.1M564.5 357.3V360.8M573.5 377.0V384.5M576.5 364.8V370.4M579.5 358.1V362.8M580.5 357.2V362.8M585.5 361.9V372.8M591.5 355.8V361.8M600.5 361.0V369.8M601.5 357.9V365.8M603.5 358.1V362.6M605.5 358.4V364.2M613.5 367.2V374.2M619.5 375.0V378.5M622.5 374.6V378.1M623.5 371.9V376.6M625.5 372.2V375.9M627.5 363.4V369.7M628.5 363.3V368.8M633.5 368.7V375.8M656.5 375.1V384.6M660.5 364.9V372.3M668.5 373.8V388.5M672.5 383.0V388.6M675.5 378.1V384.7M676.5 375.2V378.9M680.5 380.1V385.7M690.5 317.1V341.4M694.5 319.5V326.8M701.5 329.5V334.7M710.5 327.1V333.3M711.5 323.4V327.9M724.5 323.0V329.1M727.5 322.0V325.5M732.5 322.6V328.0M735.5 326.0V330.1M739.5 320.2V325.4M745.5 323.3V327.7M746.5 323.9V329.1M747.5 321.1V329.1M748.5 323.5V327.8M751.5 319.2V326.6M755.5 319.4V323.8M756.5 321.6V328.7M760.5 316.2V320.6M766.5 324.3V328.7M768.5 324.8V328.4M770.5 320.4V330.9M778.5 320.3V323.8M784.5 313.8V319.1M797.5 289.0V292.5M799.5 283.5V290.4M801.5 281.8V286.5M808.5 278.2V284.8M811.5 279.4V284.0M813.5 278.8V290.4M815.5 276.5V284.0M818.5 286.3V291.2M820.5 278.5V291.5M829.5 275.3V282.4M830.5 271.6V276.8M833.5 263.1V270.8M834.5 259.0V271.2M848.5 260.2V267.8M849.5 256.3V263.1M852.5 251.5V256.5M859.5 219.1V242.7M861.5 204.4V215.8M863.5 205.3V216.9M867.5 197.1V204.8M870.5 197.4V202.1M873.5 177.6V191.9M877.5 170.9V180.9M882.5 202.5V209.5M885.5 187.7V196.5M889.5 176.4V194.8M890.5 177.2V186.6M893.5 184.2V189.8M894.5 182.8V189.8M898.5 182.2V189.4M901.5 188.5V193.3M904.5 179.0V183.4M913.5 208.5V223.8M915.5 194.0V207.5M923.5 207.0V221.9M928.5 202.8V263.3M930.5 238.3V260.2M931.5 218.6V244.7M932.5 211.1V228.3M934.5 206.7V212.5M943.5 232.1V239.5M944.5 227.7V241.3M966.5 205.0V215.1M967.5 204.5V211.4M974.5 205.9V209.7M981.5 209.9V216.7M989.5 211.6V215.9M997.5 204.7V220.3M1001.5 174.0V181.8M1005.5 166.2V181.8M1008.5 150.8V166.3M1016.5 142.0V152.1M1017.5 143.1V150.6M1019.5 145.1V152.8M1023.5 119.5V137.8M1026.5 114.6V138.1M1028.5 116.4V119.9M1029.5 114.6V118.9M1032.5 122.8V140.9M1033.5 114.6V126.3M1047.5 114.6V121.2M1053.5 121.0V126.2M1059.5 144.8V166.0M1063.5 143.9V158.4M1072.5 134.1V143.4M1073.5 120.3V137.1M1077.5 138.8V144.6M1080.5 124.2V131.4M1082.5 122.8V127.4M1085.5 118.0V133.4M1097.5 114.4V121.2M1098.5 103.1V124.0M1102.5 105.6V111.6M1104.5 100.2V109.3M1106.5 100.4V103.9M1109.5 68.8V90.5M1111.5 72.4V83.9M1112.5 60.6V80.4M1120.5 35.7V46.1M1123.5 25.4V39.4M1132.5 44.0V54.4M1136.5 28.2V48.6M1139.5 23.7V39.7" stroke="#2dcc68" stroke-width="1" stroke-opacity="0.85" fill="none"/>
<path d="M11.5 449.1V458.4M13.5 458.2V468.7M14.5 467.3V474.7M20.5 457.1V460.6M26.5 461.6V468.2M28.5 468.8V485.6M29.5 480.7V484.2M32.5 480.9V484.4M35.5 471.4V479.8M40.5 460.8V464.3M42.5 462.1V466.2M51.5 477.6V483.4M52.5 479.9V489.2M54.5 487.8V496.4M60.5 475.2V481.3M61.5 476.4V485.1M62.5 480.2V493.0M63.5 484.6V493.5M65.5 484.3V495.2M70.5 465.2V470.3M72.5 469.0V473.8M75.5 473.9V479.5M77.5 476.2V480.3M85.5 468.5V472.5M92.5 467.2V472.9M93.5 468.4V471.9M96.5 470.1V481.6M98.5 473.2V482.7M101.5 485.2V489.8M108.5 485.4V490.7M111.5 493.0V498.1M119.5 486.3V489.8M122.5 490.5V497.7M123.5 493.0V498.8M125.5 497.3V500.8M134.5 493.3V498.6M143.5 490.6V496.8M144.5 492.0V498.6M156.5 468.2V473.9M157.5 471.8V476.8M160.5 474.6V478.1M162.5 477.7V481.2M166.5 466.6V471.8M174.5 456.4V459.9M175.5 456.6V461.2M181.5 469.7V474.7M188.5 459.7V466.4M196.5 468.4V471.9M199.5 466.2V469.9M208.5 461.4V466.6M210.5 463.2V466.7M211.5 463.2V466.7M218.5 459.3V464.5M221.5 461.2V464.7M224.5 465.4V468.9M225.5 464.9V470.2M226.5 469.6V473.1M228.5 454.6V471.7M237.5 430.2V436.1M244.5 443.7V458.8M249.5 440.4V443.9M250.5 440.8V445.4M255.5 440.1V443.6M256.5 439.1V443.3M268.5 377.0V384.0M270.5 384.4V395.3M273.5 393.2V398.5M277.5 387.6V391.1M278.5 389.9V394.5M281.5 395.2V398.7M283.5 392.3V397.1M284.5 392.7V397.4M292.5 381.3V390.3M303.5 377.8V381.3M307.5 382.5V387.0M325.5 352.4V362.4M332.5 370.3V373.8M337.5 359.7V363.2M338.5 360.1V367.0M351.5 374.1V381.2M353.5 377.8V384.6M354.5 381.0V386.5M362.5 372.0V375.5M370.5 371.0V377.7M373.5 381.6V387.0M381.5 370.8V379.8M384.5 374.0V380.3M385.5 377.4V381.0M387.5 380.1V386.7M389.5 383.6V390.4M390.5 381.9V386.7M405.5 349.3V358.5M406.5 351.1V372.6M410.5 361.8V376.8M423.5 373.5V378.5M425.5 381.0V392.5M432.5 375.0V379.2M436.5 367.3V372.0M440.5 360.3V364.9M446.5 355.1V358.7M457.5 352.7V360.5M464.5 347.4V354.9M466.5 352.7V357.5M467.5 351.5V357.5M470.5 345.4V349.0M471.5 344.4V350.8M474.5 348.9V353.4M477.5 343.1V351.8M483.5 343.2V346.7M486.5 352.5V356.0M487.5 349.5V356.0M489.5 345.7V353.2M490.5 349.2V364.0M491.5 360.5V373.8M493.5 364.3V372.9M494.5 361.0V367.2M499.5 363.5V368.7M504.5 348.0V363.4M507.5 341.7V345.4M510.5 344.3V348.8M516.5 357.8V366.0M518.5 364.9V369.3M522.5 359.9V367.6M523.5 361.2V369.0M525.5 370.1V376.4M530.5 363.0V370.6M539.5 376.0V384.2M548.5 363.9V367.4M550.5 364.0V373.1M551.5 369.7V375.8M552.5 370.3V374.8M559.5 364.5V368.0M565.5 353.8V359.4M567.5 357.0V362.5M569.5 357.8V363.3M572.5 375.0V385.8M583.5 357.8V370.9M586.5 365.0V369.2M593.5 358.3V362.0M594.5 359.2V365.3M596.5 362.1V370.9M604.5 355.3V362.3M606.5 362.5V369.7M608.5 366.3V370.6M609.5 366.4V373.5M620.5 375.3V378.8M635.5 364.2V368.3M638.5 365.6V369.1M641.5 368.6V373.8M647.5 366.9V373.8M652.5 358.6V370.9M665.5 394.1V418.5M670.5 376.9V388.2M671.5 381.3V388.9M678.5 377.2V381.8M683.5 375.2V384.3M684.5 376.5V385.2M699.5 324.4V334.7M700.5 331.9V335.8M706.5 323.2V329.9M709.5 327.3V333.3M715.5 316.6V320.1M718.5 317.2V322.3M721.5 323.1V328.7M731.5 322.2V328.5M736.5 322.1V330.1M740.5 320.4V324.7M742.5 320.1V323.6M758.5 318.6V322.2M762.5 317.0V320.5M763.5 318.6V323.5M764.5 320.7V324.2M765.5 319.7V328.5M767.5 322.2V328.2M769.5 327.0V331.1M776.5 320.2V325.2M787.5 302.8V309.1M790.5 293.1V300.5M795.5 292.4V296.0M796.5 288.6V296.5M807.5 276.9V282.7M814.5 278.8V283.2M816.5 281.6V285.1M817.5 280.8V288.2M826.5 276.7V286.5M839.5 255.3V261.9M843.5 256.2V262.1M845.5 259.5V272.6M846.5 262.3V268.9M853.5 242.1V253.5M879.5 169.2V182.0M881.5 193.9V205.7M883.5 198.4V207.0M891.5 179.7V188.3M896.5 182.6V186.1M906.5 168.3V179.1M909.5 190.1V208.1M911.5 181.8V212.4M912.5 200.4V222.9M916.5 195.6V207.8M917.5 200.8V212.2M919.5 211.8V225.0M935.5 205.0V212.4M936.5 202.8V208.2M937.5 203.7V219.7M938.5 212.4V227.8M947.5 240.7V251.8M948.5 250.1V257.8M956.5 228.0V235.1M959.5 228.6V235.0M962.5 223.4V233.1M979.5 210.9V222.8M982.5 209.7V215.1M984.5 207.7V213.2M990.5 207.2V214.5M999.5 183.5V198.7M1011.5 144.0V159.3M1018.5 142.7V155.7M1021.5 141.6V149.4M1022.5 130.2V145.4M1027.5 114.6V123.4M1039.5 125.4V135.0M1040.5 128.4V134.0M1041.5 125.1V133.3M1044.5 115.4V123.5M1056.5 123.6V133.2M1057.5 124.7V154.7M1058.5 140.6V161.8M1060.5 140.6V155.3M1065.5 138.9V144.8M1066.5 138.9V149.2M1068.5 147.2V153.8M1069.5 146.6V153.8M1070.5 139.7V150.1M1076.5 126.7V144.6M1083.5 116.8V126.2M1092.5 99.2V112.7M1100.5 98.2V105.1M1116.5 53.5V71.8M1119.5 30.3V42.0M1124.5 29.3V41.6M1128.5 34.9V42.0M1135.5 31.9V45.0M1137.5 7.1V38.1M1140.5 19.4V37.6M1141.5 25.7V32.8" stroke="#ff3232" stroke-width="1" stroke-opacity="0.85" fill="none"/>
<path d="M6.5 444.2V447.7M9.5 445.3V449.0M16.5 460.7V470.1M18.5 458.4V462.9M25.5 464.7V468.2M27.5 465.0V473.7M34.5 472.7V482.4M36.5 466.7V472.7M41.5 461.0V464.7M47.5 465.7V472.7M56.5 487.4V493.6M57.5 482.6V490.9M68.5 465.5V475.9M78.5 478.1V481.8M82.5 470.6V475.1M84.5 470.1V473.6M89.5 467.3V470.8M90.5 467.2V470.9M97.5 474.9V479.4M102.5 486.2V489.7M103.5 483.9V487.7M114.5 498.8V502.5M117.5 488.2V494.8M127.5 492.2V499.6M139.5 497.1V506.4M141.5 489.1V499.2M142.5 488.2V492.9M146.5 488.4V498.6M153.5 468.4V474.6M163.5 473.3V480.8M167.5 463.8V468.6M168.5 461.0V466.4M178.5 461.5V467.2M185.5 463.6V468.5M186.5 459.7V465.7M192.5 467.8V472.1M198.5 469.5V473.0M214.5 457.8V461.3M217.5 459.4V464.0M222.5 462.2V467.3M229.5 447.0V464.1M230.5 443.9V450.2M232.5 440.3V444.9M239.5 436.0V440.3M242.5 431.9V441.1M246.5 443.7V453.6M262.5 406.5V421.0M272.5 395.6V400.4M282.5 392.7V397.3M287.5 389.5V393.0M288.5 387.7V393.5M293.5 379.8V383.9M295.5 377.2V382.3M296.5 375.5V379.7M298.5 372.5V376.0M302.5 377.7V381.2M310.5 380.3V391.4M311.5 376.3V384.7M312.5 370.9V378.3M318.5 374.5V383.8M321.5 360.7V368.1M330.5 368.6V372.1M347.5 384.9V389.8M348.5 377.9V386.7M349.5 376.0V382.9M358.5 379.8V386.2M359.5 379.9V384.8M360.5 376.5V382.8M364.5 370.9V374.4M366.5 370.9V374.4M367.5 371.7V375.2M382.5 373.8V377.3M392.5 379.4V385.5M397.5 375.7V385.5M402.5 354.2V361.7M409.5 356.0V371.5M411.5 372.9V381.7M415.5 365.5V373.7M428.5 385.9V392.4M429.5 381.0V389.0M431.5 378.1V382.5M435.5 366.4V374.7M439.5 361.3V364.8M441.5 359.8V363.8M449.5 352.9V362.2M453.5 347.2V350.7M454.5 344.7V350.4M455.5 344.7V348.3M459.5 353.4V359.9M482.5 343.3V347.6M492.5 367.5V373.8M496.5 354.9V359.0M502.5 361.8V375.5M508.5 341.5V345.0M509.5 342.0V347.7M515.5 357.7V363.5M529.5 363.0V375.6M537.5 375.6V381.2M542.5 378.1V386.8M543.5 373.0V382.2M554.5 369.1V375.7M557.5 366.7V372.7M558.5 364.9V370.2M562.5 354.3V362.2M563.5 355.5V360.6M571.5 365.5V378.2M575.5 361.5V376.3M577.5 357.9V366.0M581.5 355.0V361.5M587.5 360.6V367.2M588.5 359.2V364.8M590.5 357.0V360.5M599.5 363.2V369.9M617.5 374.0V378.8M621.5 372.1V378.3M629.5 358.7V367.7M632.5 370.3V375.8M634.5 365.5V371.0M639.5 365.5V370.7M643.5 371.1V374.6M644.5 365.9V374.3M646.5 364.9V370.3M648.5 370.2V375.8M658.5 375.6V388.2M667.5 383.3V400.5M673.5 380.5V386.7M674.5 376.0V384.0M682.5 375.2V379.7M685.5 381.7V386.1M702.5 326.2V332.9M703.5 321.9V333.2M705.5 323.6V329.8M712.5 319.3V325.5M713.5 318.5V324.0M716.5 317.2V323.2M723.5 325.6V329.1M725.5 324.8V328.3M737.5 323.9V328.6M741.5 317.5V324.1M743.5 320.6V326.6M754.5 318.5V322.0M757.5 319.5V323.8M759.5 316.2V321.1M761.5 316.5V320.0M772.5 325.9V331.1M774.5 317.2V328.6M779.5 322.3V325.8M781.5 319.6V325.1M782.5 318.6V325.5M789.5 294.6V301.7M791.5 291.5V295.2M792.5 291.0V298.3M802.5 274.2V285.6M803.5 276.6V283.5M804.5 275.7V280.9M810.5 275.6V286.5M821.5 269.5V285.4M822.5 262.2V278.5M823.5 266.6V273.9M828.5 276.6V283.9M835.5 255.8V264.2M842.5 256.5V263.5M850.5 254.4V261.3M854.5 244.5V253.1M860.5 212.3V226.1M872.5 183.7V196.3M875.5 177.2V180.8M884.5 191.5V204.2M886.5 181.4V191.1M887.5 177.4V193.1M888.5 187.5V195.7M892.5 178.6V190.5M899.5 183.4V191.6M902.5 181.2V193.3M905.5 175.5V180.5M910.5 182.9V198.2M914.5 196.4V215.3M922.5 214.2V227.0M924.5 195.3V211.6M926.5 187.4V202.7M933.5 207.0V217.9M940.5 231.5V247.8M942.5 234.9V247.1M949.5 248.7V252.2M950.5 248.9V255.1M951.5 244.3V251.8M952.5 240.5V245.9M953.5 228.6V244.4M954.5 234.3V240.1M955.5 231.6V239.2M960.5 225.0V233.7M961.5 230.9V235.0M963.5 211.2V226.1M964.5 208.9V218.4M965.5 208.8V214.2M968.5 203.8V211.7M973.5 201.5V216.5M977.5 212.1V222.8M980.5 210.5V226.7M993.5 208.4V223.6M994.5 202.7V215.4M995.5 196.1V206.4M998.5 190.8V212.6M1000.5 172.8V191.3M1002.5 170.5V178.9M1003.5 170.3V181.9M1009.5 144.8V159.5M1010.5 147.4V159.9M1015.5 144.5V157.4M1020.5 142.0V152.8M1034.5 117.6V128.6M1037.5 117.6V124.9M1042.5 121.2V127.9M1046.5 114.6V120.4M1052.5 119.5V130.4M1078.5 135.2V144.6M1079.5 126.8V139.5M1087.5 99.3V112.0M1088.5 99.1V102.6M1103.5 105.3V117.4M1105.5 100.2V107.3M1113.5 59.8V68.5M1114.5 59.0V75.6M1117.5 36.8V71.8M1121.5 25.4V39.9M1125.5 25.8V41.4M1130.5 42.0V51.3" stroke="#2dcc68" stroke-width="1" stroke-opacity="1.00" fill="none"/>
<path d="M10.5 445.0V452.9M12.5 455.6V464.8M19.5 456.9V460.4M22.5 459.1V462.7M23.5 461.6V467.0M31.5 481.5V485.0M45.5 465.0V468.5M46.5 464.1V468.0M50.5 473.4V481.2M55.5 487.0V493.8M67.5 475.1V482.9M71.5 466.9V471.6M79.5 471.5V481.2M94.5 465.7V471.8M99.5 479.8V484.9M100.5 482.0V489.1M109.5 487.8V493.8M110.5 488.9V495.2M113.5 495.4V503.3M121.5 486.2V494.8M129.5 491.6V496.5M130.5 491.0V494.5M132.5 487.8V491.3M135.5 495.0V503.4M136.5 496.6V507.0M137.5 502.6V507.9M138.5 501.9V508.4M148.5 480.2V487.2M158.5 472.4V475.9M161.5 474.9V479.4M173.5 456.7V461.6M176.5 459.2V463.6M180.5 466.2V472.7M182.5 469.7V475.5M187.5 460.4V463.9M189.5 464.9V470.0M197.5 470.0V473.5M200.5 464.3V469.2M205.5 459.8V463.3M212.5 460.3V465.7M216.5 459.6V463.1M223.5 463.8V468.8M235.5 430.4V435.2M238.5 434.4V439.5M241.5 435.2V442.0M243.5 435.2V447.0M247.5 440.2V448.2M263.5 399.5V412.3M267.5 372.2V379.9M276.5 385.4V388.9M279.5 388.7V395.7M280.5 392.5V397.8M285.5 391.1V394.8M289.5 384.2V390.9M291.5 384.0V387.5M297.5 373.0V379.2M300.5 373.2V378.4M306.5 380.3V386.7M316.5 358.8V374.2M335.5 362.3V369.2M340.5 367.8V374.2M342.5 372.8V378.5M344.5 379.5V388.0M345.5 383.6V388.4M352.5 376.1V381.8M355.5 385.0V390.8M357.5 382.5V389.5M363.5 370.1V375.8M374.5 383.0V390.5M375.5 387.4V392.8M383.5 375.6V380.2M399.5 366.7V375.6M404.5 348.6V354.9M407.5 364.6V374.2M414.5 361.8V367.6M416.5 370.4V378.0M417.5 377.2V385.4M437.5 363.6V370.8M442.5 357.3V360.8M456.5 344.7V354.0M465.5 348.9V355.5M472.5 348.7V353.4M476.5 346.1V354.9M484.5 342.7V348.7M485.5 346.1V355.0M498.5 358.8V364.7M511.5 342.4V351.3M513.5 350.0V356.4M514.5 352.5V359.6M517.5 361.8V366.9M528.5 371.9V384.8M532.5 370.9V381.1M534.5 382.5V386.8M540.5 377.0V384.7M541.5 380.2V386.8M545.5 364.5V370.7M547.5 365.2V368.7M549.5 364.4V370.0M568.5 359.8V363.3M582.5 355.0V364.9M584.5 366.8V372.8M592.5 357.4V360.9M595.5 358.5V369.5M597.5 366.9V372.8M607.5 362.4V369.0M610.5 371.9V375.8M611.5 374.0V377.8M616.5 371.9V378.7M618.5 374.3V378.6M636.5 364.2V369.7M637.5 362.8V368.6M640.5 369.1V373.7M650.5 363.7V370.4M663.5 358.1V366.2M664.5 358.1V406.0M669.5 373.2V379.3M677.5 375.2V379.7M681.5 377.1V384.5M693.5 322.8V330.2M697.5 319.0V325.7M698.5 321.9V330.2M708.5 330.3V333.8M719.5 317.4V327.0M720.5 320.8V326.7M726.5 323.5V327.7M728.5 322.2V326.0M729.5 322.2V326.4M730.5 322.2V327.2M744.5 321.0V326.9M749.5 321.5V325.4M750.5 320.8V326.2M752.5 319.2V323.7M753.5 319.4V322.9M775.5 320.8V324.8M777.5 321.5V327.0M783.5 316.2V320.8M794.5 293.4V296.9M798.5 288.0V291.5M805.5 275.7V281.2M806.5 275.7V284.9M809.5 281.0V286.5M824.5 270.1V280.5M825.5 271.4V280.8M832.5 266.9V272.2M840.5 257.5V263.8M841.5 257.7V264.0M844.5 258.3V265.1M856.5 242.0V247.4M868.5 196.5V209.3M880.5 174.4V197.4M895.5 182.6V189.4M907.5 168.8V190.4M918.5 207.5V217.4M920.5 220.3V236.0M929.5 250.4V267.7M939.5 220.5V239.8M957.5 231.2V234.7M958.5 232.9V236.5M969.5 203.8V209.8M972.5 210.3V219.6M975.5 205.9V214.6M976.5 209.3V218.3M978.5 218.5V222.8M983.5 203.5V214.2M985.5 206.9V210.8M987.5 206.9V215.6M988.5 210.6V215.6M991.5 207.7V222.0M996.5 199.6V213.2M1012.5 144.0V151.2M1013.5 146.7V157.8M1014.5 151.9V157.8M1024.5 118.1V134.8M1031.5 121.4V135.7M1035.5 120.5V131.7M1038.5 117.6V133.4M1048.5 114.6V119.3M1049.5 114.6V129.6M1050.5 121.8V130.4M1055.5 119.6V130.6M1061.5 145.7V161.8M1067.5 141.8V149.7M1093.5 107.6V119.8M1096.5 106.6V121.2M1101.5 98.2V115.6M1107.5 100.2V110.4M1110.5 68.8V85.0M1115.5 52.8V67.8M1122.5 25.4V32.0M1131.5 46.8V54.7M1133.5 44.5V55.8" stroke="#ff3232" stroke-width="1" stroke-opacity="1.00" fill="none"/>
<path d="M5.0 487.0C7.5 485.5 14.1 480.3 20.0 478.0C25.9 475.7 33.8 474.1 40.6 473.0C47.4 471.9 54.3 472.0 61.0 471.4C67.7 470.8 74.2 470.0 81.0 469.6C87.8 469.2 94.7 468.9 101.5 469.0C108.3 469.1 115.2 469.7 122.0 470.4C128.8 471.1 137.3 472.5 142.0 473.0C146.7 473.5 145.3 473.2 150.0 473.5C154.7 473.8 163.2 474.5 170.0 475.0C176.8 475.5 183.8 476.4 190.6 476.7C197.4 477.0 204.3 476.9 211.0 476.7C217.7 476.5 224.2 476.4 231.0 475.7C237.8 475.0 246.1 473.6 251.5 472.6C256.9 471.6 258.6 471.5 263.7 469.6C268.8 467.8 275.9 464.4 282.0 461.5C288.1 458.6 293.9 455.9 300.0 452.3C306.1 448.7 312.3 444.0 318.4 439.7C324.5 435.4 330.3 430.5 336.7 426.6C343.1 422.7 350.2 419.8 357.0 416.4C363.8 413.0 370.5 409.4 377.3 406.3C384.1 403.2 390.8 401.1 397.6 398.0C404.4 394.9 410.9 391.0 418.0 388.0C425.1 385.0 434.6 381.9 440.0 379.9C445.4 377.9 445.2 377.5 450.3 376.0C455.4 374.5 463.8 372.3 470.6 370.9C477.4 369.5 484.3 368.6 491.0 367.8C497.7 367.0 504.2 366.2 511.0 365.8C517.8 365.4 524.7 365.4 531.5 365.2C538.3 365.0 545.0 365.0 551.8 364.8C558.5 364.6 565.6 364.3 572.0 363.8C578.4 363.3 583.9 362.4 590.3 362.0C596.7 361.6 603.8 361.3 610.6 361.3C617.4 361.3 624.3 361.6 631.0 362.0C637.7 362.4 644.2 363.1 651.0 364.0C657.8 364.9 666.7 366.5 671.5 367.2C676.3 367.9 677.3 368.1 680.0 368.4C682.7 368.7 685.2 369.0 687.7 369.0C690.2 369.0 692.6 368.7 695.0 368.4C697.4 368.1 697.8 368.0 702.0 367.2C706.2 366.4 715.3 364.6 720.0 363.3C724.7 362.1 725.2 361.1 730.3 359.7C735.4 358.3 743.8 356.2 750.6 354.7C757.4 353.2 764.3 352.0 771.0 350.6C777.7 349.2 784.2 348.7 791.0 346.5C797.8 344.3 804.7 340.6 811.5 337.4C818.3 334.2 825.0 331.0 831.8 327.3C838.5 323.6 847.3 318.1 852.0 315.0C856.7 311.9 853.1 314.9 860.0 309.0C866.9 303.1 885.1 286.6 893.6 279.7C902.1 272.8 904.8 271.7 911.0 267.6C917.2 263.6 924.2 259.2 931.0 255.4C937.8 251.6 944.7 248.6 951.5 245.0C958.3 241.4 965.0 237.2 971.8 234.0C978.5 230.8 987.3 227.7 992.0 226.0C996.7 224.3 997.3 225.1 1000.0 224.0C1002.7 222.9 1004.6 222.0 1008.0 219.6C1011.4 217.2 1014.9 213.7 1020.4 209.7C1025.8 205.7 1033.9 199.6 1040.7 195.5C1047.5 191.4 1054.2 187.8 1061.0 185.4C1067.8 183.0 1074.5 183.4 1081.3 181.3C1088.1 179.2 1096.5 175.4 1101.6 173.0C1106.7 170.6 1108.4 169.7 1111.8 167.0C1115.2 164.3 1118.6 160.4 1122.0 157.0C1125.4 153.6 1129.0 150.2 1132.0 146.8C1135.0 143.4 1138.7 138.4 1140.0 136.7" stroke="#ff0000" stroke-width="1.9" fill="none" stroke-linejoin="round"/>
<path d="M32.5 446.6L45.3 434.4H39.2V412.7H25.8V434.4H19.7Z" fill="none" stroke="#ff0000" stroke-width="3" stroke-linejoin="miter"/>
<path d="M148.0 530.2L160.8 542.4H154.8V563.9H141.2V542.4H135.2Z" fill="none" stroke="#7fff00" stroke-width="3" stroke-linejoin="miter"/>
<path d="M696.3 430.7L709.1 442.9H703.0V464.4H689.5V442.9H683.5Z" fill="none" stroke="#00ff00" stroke-width="3" stroke-linejoin="miter"/>
<path d="M940.6 285.3L953.4 297.5H947.4V319.0H933.9V297.5H927.8Z" fill="none" stroke="#00ff00" stroke-width="3" stroke-linejoin="miter"/>
<path d="M1132.5 3H1147.2L1139.8 10Z" fill="#7a8a9e"/>
<rect x="1431" y="23" width="56" height="16" fill="#7a8a9e"/>
<g style="filter:grayscale(1)">
<text x="1434.6" y="36" font-size="13" textLength="48.4" lengthAdjust="spacingAndGlyphs" fill="#262a32">5086.42</text>
<text x="1433.6" y="99.0" font-size="13" textLength="48.6" lengthAdjust="spacingAndGlyphs" fill="#dedede">4997.22</text>
<text x="1433.6" y="158.0" font-size="13" textLength="48.6" lengthAdjust="spacingAndGlyphs" fill="#dedede">4912.43</text>
<text x="1433.6" y="218.0" font-size="13" textLength="48.6" lengthAdjust="spacingAndGlyphs" fill="#dedede">4827.64</text>
<text x="1433.6" y="278.0" font-size="13" textLength="48.6" lengthAdjust="spacingAndGlyphs" fill="#dedede">4742.85</text>
<text x="1433.6" y="338.0" font-size="13" textLength="48.6" lengthAdjust="spacingAndGlyphs" fill="#dedede">4658.06</text>
<text x="1433.6" y="397.0" font-size="13" textLength="48.6" lengthAdjust="spacingAndGlyphs" fill="#dedede">4573.27</text>
<text x="1433.6" y="456.0" font-size="13" textLength="48.6" lengthAdjust="spacingAndGlyphs" fill="#dedede">4488.48</text>
<text x="1433.6" y="516.0" font-size="13" textLength="48.6" lengthAdjust="spacingAndGlyphs" fill="#dedede">4403.69</text>
<text x="4.2" y="587" font-size="13" textLength="63.6" lengthAdjust="spacingAndGlyphs" fill="#dedede">7 Jan 2026</text>
<text x="122.4" y="587" font-size="13" textLength="70.0" lengthAdjust="spacingAndGlyphs" fill="#dedede">8 Jan 10:15</text>
<text x="242.0" y="587" font-size="13" textLength="70.0" lengthAdjust="spacingAndGlyphs" fill="#dedede">9 Jan 19:15</text>
<text x="362.2" y="587" font-size="13" textLength="76.0" lengthAdjust="spacingAndGlyphs" fill="#dedede">13 Jan 05:15</text>
<text x="481.5" y="587" font-size="13" textLength="76.0" lengthAdjust="spacingAndGlyphs" fill="#dedede">14 Jan 14:15</text>
<text x="600.7" y="587" font-size="13" textLength="75.8" lengthAdjust="spacingAndGlyphs" fill="#dedede">15 Jan 23:15</text>
<text x="720.2" y="587" font-size="13" textLength="75.8" lengthAdjust="spacingAndGlyphs" fill="#dedede">19 Jan 09:15</text>
<text x="839.2" y="587" font-size="13" textLength="76.4" lengthAdjust="spacingAndGlyphs" fill="#dedede">20 Jan 20:45</text>
<text x="958.2" y="587" font-size="13" textLength="76.4" lengthAdjust="spacingAndGlyphs" fill="#dedede">22 Jan 06:45</text>
<text x="1077.8" y="587" font-size="13" textLength="76.6" lengthAdjust="spacingAndGlyphs" fill="#dedede">23 Jan 15:45</text>
<text x="67.6" y="22" font-size="13" textLength="52.6" lengthAdjust="spacingAndGlyphs" fill="#dedede">XAUUSD,</text>
<text x="123.3" y="22" font-size="13" textLength="28.6" lengthAdjust="spacingAndGlyphs" fill="#dedede">M15:</text>
<text x="160.2" y="22" font-size="13" textLength="25.6" lengthAdjust="spacingAndGlyphs" fill="#dedede">Gold</text>
<text x="188.3" y="22" font-size="13" textLength="28.0" lengthAdjust="spacingAndGlyphs" fill="#dedede">Spot</text>
</g>
<g>
<path d="M21.2 9.2H12.4Q11.2 9.2 11.2 10.4V22.3Q11.2 23.5 12.4 23.5H21.2Z" fill="#ffe3dd"/>
<path d="M21.2 9.2H30Q31.2 9.2 31.2 10.4V22.3Q31.2 23.5 30 23.5H21.2Z" fill="#c9e6ff"/>
<path d="M21.2 9.2H12.4Q11.2 9.2 11.2 10.4V22.3Q11.2 23.5 12.4 23.5H21.2" fill="none" stroke="#e0392f" stroke-width="1.3"/>
<path d="M21.2 9.2H30Q31.2 9.2 31.2 10.4V22.3Q31.2 23.5 30 23.5H21.2" fill="none" stroke="#0a62a8" stroke-width="1.3"/>
<rect x="13.8" y="12.0" width="6.3" height="1.1" fill="#e0392f"/>
<rect x="22.3" y="12.0" width="6.5" height="1.1" fill="#0a62a8"/>
<rect x="13.8" y="16.0" width="6.3" height="1.1" fill="#e0392f"/>
<rect x="22.3" y="16.0" width="6.5" height="1.1" fill="#0a62a8"/>
<rect x="13.8" y="20.0" width="6.3" height="1.1" fill="#e0392f"/>
<rect x="22.3" y="20.0" width="6.5" height="1.1" fill="#0a62a8"/>
</g>
<path d="M41.2 9.2H45.6V15H50V23.4H41.2Z" fill="#ffe0da" stroke="#e23a30" stroke-width="1.2" stroke-linejoin="round"/>
<path d="M61 9.2H56.6V15H52.6V23.4H61Z" fill="#c4e4ff" stroke="#0a62a8" stroke-width="1.2" stroke-linejoin="round"/>
<rect x="47.5" y="9.2" width="7" height="3.6" rx="1.2" fill="#d6d6d6"/>
<g>
<line x1="1477" y1="569.3" x2="1484.3" y2="576.1" stroke="#ffffff" stroke-width="9.5" stroke-linecap="round"/>
<circle cx="1470" cy="561.8" r="12.7" fill="#ffffff"/>
<line x1="1476" y1="568.3" x2="1484.3" y2="576.1" stroke="#454545" stroke-width="5" stroke-linecap="round"/>
<circle cx="1470" cy="561.8" r="8.9" fill="#ffffff" stroke="#454545" stroke-width="3.4"/>
<path d="M1465.4 561.8H1474.6M1470 557.2V566.4" stroke="#454545" stroke-width="3.6"/>
</g>
</svg></body></html>
